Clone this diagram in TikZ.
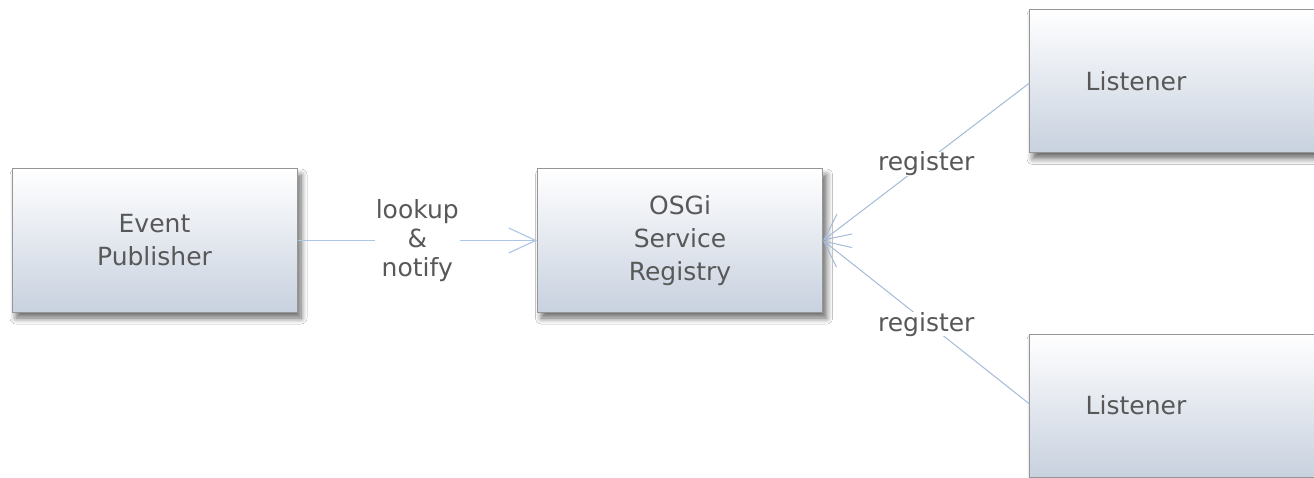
\documentclass[tikz,border=0pt]{standalone}
\usepackage{fontspec}
\setmainfont{DejaVu Sans}
\usetikzlibrary{arrows.meta,shadows.blur}
\definecolor{boxbot}{RGB}{200,209,223}
\definecolor{boxedge}{RGB}{150,150,150}
\definecolor{txt}{RGB}{88,88,88}
\definecolor{conn}{RGB}{172,198,232}
\definecolor{conn2}{RGB}{165,186,218}
\tikzset{
  box/.style={draw=boxedge, line width=1pt, top color=white, bottom color=boxbot,
    minimum width=285pt, minimum height=143pt, inner sep=0pt,
    blur shadow={shadow xshift=4pt, shadow yshift=-6pt, shadow blur radius=6pt, shadow blur steps=8, shadow opacity=60},
    font=\fontsize{25}{33}\selectfont, text=txt, align=center},
  boxtext/.style={font=\fontsize{25}{33}\selectfont, text=txt, align=center, inner sep=0pt},
  lab/.style={font=\fontsize{25}{29}\selectfont, text=txt, align=center, fill=white, inner sep=1pt},
  conline/.style={draw=conn, line width=1.3pt, -{Straight Barb[length=27pt,width=25pt,line width=1.1pt]}},
  regline/.style={draw=conn2, line width=1pt, -{Straight Barb[length=26pt,width=25pt,line width=1pt]}}
}
\begin{document}
\begin{tikzpicture}[x=1pt,y=-1pt]
\useasboundingbox (0,0) rectangle (1314,478);
\clip (0,0) rectangle (1314,478);
\fill[white] (0,0) rectangle (1314,478);
\node[box] (pub) at (154.5,240.5) {Event\\Publisher};
\node[box] (reg) at (680,240.5) {OSGi\\Service\\Registry};
\node[box, minimum width=300pt] (l1) at (1179,81) {};
\node[boxtext] (l1t) at (1136,81) {Listener};
\node[box, minimum width=300pt] (l2) at (1179,405.5) {};
\node[boxtext] (l2t) at (1136,405.5) {Listener};
\coordinate (l1w) at (1029.5,83);
\coordinate (l2w) at (1029.5,404);
\draw[conline] (pub.east) -- node[lab] {lookup\\\&\\notify} (reg.west);
\draw[regline] (l1w) -- node[lab, inner sep=0pt, yshift=-2pt] {register} (reg.east);
\draw[regline] (l2w) -- node[lab, inner sep=0pt, yshift=-2pt] {register} (reg.east);
\end{tikzpicture}
\end{document}
